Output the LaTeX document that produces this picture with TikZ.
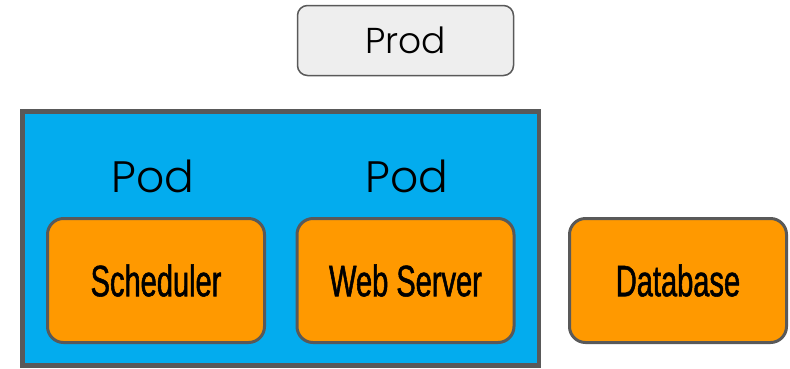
\documentclass[tikz,border=0pt]{standalone}
\usepackage{fontspec}
\newfontfamily\labelfont{Poppins Light}
\newfontfamily\boxfont[FakeStretch=0.66, FakeBold=1.2]{Liberation Sans}
\definecolor{edgegray}{RGB}{89,89,89}
\definecolor{prodfill}{RGB}{238,238,238}
\definecolor{podblue}{RGB}{3,172,238}
\definecolor{apporange}{RGB}{255,153,0}
\tikzset{
  appbox/.style={draw=edgegray, line width=3pt, fill=apporange, rounded corners=16pt,
    minimum width=217pt, minimum height=124pt, inner sep=0pt,
    font=\boxfont\fontsize{44}{44}\selectfont},
  prodbox/.style={draw=edgegray, line width=1.5pt, fill=prodfill, rounded corners=10pt,
    minimum width=216pt, minimum height=70pt, inner sep=0pt,
    font=\labelfont\fontsize{36}{36}\selectfont},
  podlabel/.style={inner sep=0pt, font=\labelfont\fontsize{44}{44}\selectfont},
}
\begin{document}
\begin{tikzpicture}[x=1pt, y=-1pt]
  \useasboundingbox (0,0) rectangle (790,368);
  % cluster area holding the two pods
  \draw[draw=edgegray, line width=4.5pt, fill=podblue] (22.5,111.5) rectangle (539,365.5);
  \node[prodbox] (prod) at (405.5,40.5) {Prod};
  \node[podlabel] (pod1) at (153,176) {Pod};
  \node[podlabel] (pod2) at (407,176) {Pod};
  \node[appbox] (sched) at (156,280.5) {Scheduler};
  \node[appbox] (web) at (405.5,280.5) {Web Server};
  \node[appbox] (db) at (678,280.5) {Database};
\end{tikzpicture}
\end{document}
